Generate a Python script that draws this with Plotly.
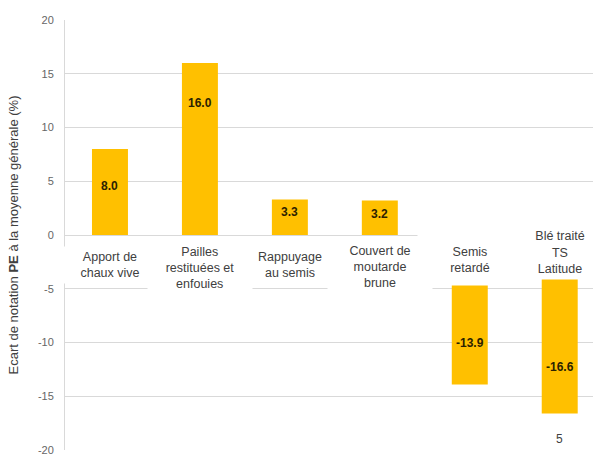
import plotly.graph_objects as go

categories = ["Apport de<br>chaux vive", "Pailles<br>restituées et<br>enfouies", "Rappuyage<br>au semis",
              "Couvert de<br>moutarde<br>brune", "Semis<br>retardé", "Blé traité<br>TS<br>Latitude"]
values = [8.0, 16.0, 3.3, 3.2, -13.9, -16.6]
y_ticks = [-20, -15, -10, -5, 0, 5, 10, 15, 20]

# layout-only placement of labels
value_label_y = [4.6, 12.3, 2.1, 2.0, -10.0, -12.3]
cat_label_shift = [30, 33, 30, 32, 24.5, 17]
cat_label_height = [36, 52, 36, 52, 50, 53]

BAR = "#FFC000"
FONT = "Arial, Liberation Sans"
x = list(range(len(categories)))

fig = go.Figure(go.Bar(x=x, y=values, marker=dict(color=BAR, line=dict(width=0)),
                       width=0.4, hoverinfo="skip"))

ann = []
for i, (lab, v) in enumerate(zip(categories, values)):
    ann.append(dict(x=i, y=0, xref="x", yref="y", text=lab, showarrow=False,
                    yanchor="middle", yshift=-cat_label_shift[i], width=104,
                    height=cat_label_height[i], bgcolor="white", borderpad=0,
                    font=dict(family=FONT, size=12.5, color="#404040")))
    ann.append(dict(x=i, y=value_label_y[i], xref="x", yref="y", text=f"<b>{v:.1f}</b>",
                    showarrow=False, font=dict(family=FONT, size=12, color="#2b2200")))
ann.append(dict(x=5, y=-19, xref="x", yref="y", text="5", showarrow=False,
                font=dict(family=FONT, size=12, color="#404040")))

fig.update_layout(
    width=593, height=457,
    margin=dict(l=65, r=0, t=20, b=7),
    paper_bgcolor="white", plot_bgcolor="white",
    showlegend=False,
    annotations=ann,
    xaxis=dict(range=[-0.5, 5.37], showticklabels=False, showgrid=False, zeroline=False,
               showline=False, fixedrange=True),
    yaxis=dict(range=[-20, 20], tickvals=y_ticks, ticktext=[str(t) for t in y_ticks],
               showgrid=True, gridcolor="#d9d9d9", gridwidth=1, zeroline=False,
               showline=True, linecolor="#d9d9d9", linewidth=1, ticks="",
               ticklabelstandoff=8,
               tickfont=dict(family=FONT, size=11, color="#666666"),
               title=dict(text="Ecart de notation <b>PE</b> à la moyenne générale (%)",
                          font=dict(family=FONT, size=13, color="#404040"),
                          standoff=16)),
)

fig.write_html("out.html")
